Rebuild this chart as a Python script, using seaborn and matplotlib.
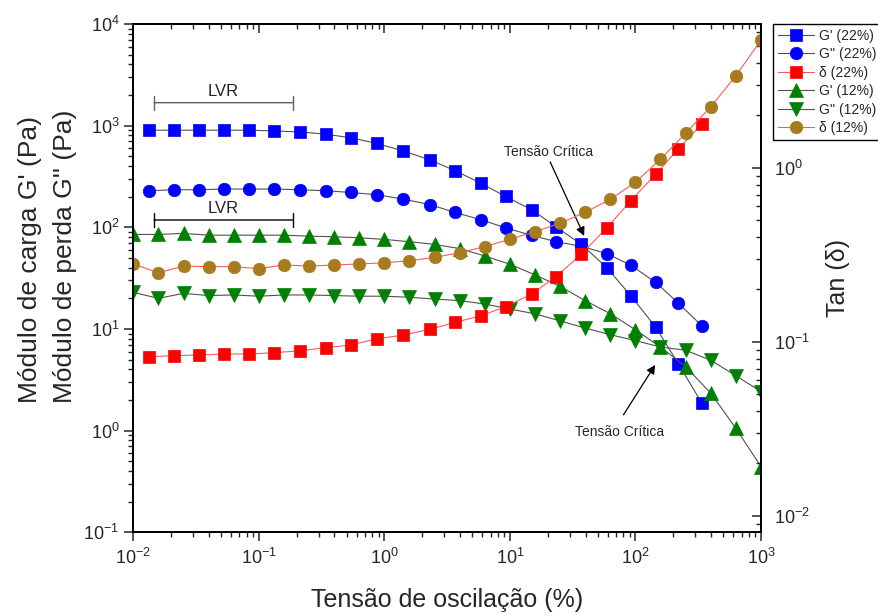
import numpy as np
import matplotlib
matplotlib.use("Agg")
import matplotlib.pyplot as plt
import seaborn as sns

# ---------------- data ----------------
x22 = [0.0134, 0.0211, 0.0334, 0.0527, 0.0833, 0.132, 0.214, 0.340, 0.544, 0.869,
       1.40, 2.32, 3.64, 5.85, 9.24, 14.9, 23.3, 37.0, 59.2, 91.7, 145, 219, 336]
g1_22 = [902, 902, 902, 902, 902, 887, 867, 824, 759, 668, 566, 459, 361, 272, 201,
         149, 101, 68, 40, 21.2, 10.4, 4.57, 1.88]
g2_22 = [229, 234, 234, 238, 238, 238, 234, 229, 220, 209, 190, 167, 140, 119, 98.8,
         83.2, 72.2, 65, 55.1, 42.4, 28.7, 18.0, 10.8]
d_22 = [0.0820, 0.0832, 0.0839, 0.0850, 0.0850, 0.0865, 0.0887, 0.0925, 0.0958, 0.104,
        0.109, 0.118, 0.129, 0.141, 0.159, 0.188, 0.237, 0.318, 0.452, 0.646, 0.917,
        1.28, 1.78]

x12 = [0.01, 0.0158, 0.0251, 0.0398, 0.0631, 0.1, 0.158, 0.251, 0.398, 0.631, 1.0,
       1.58, 2.51, 3.98, 6.31, 10, 15.8, 25.1, 39.8, 63.1, 100, 158, 251, 398, 631, 1000]
g1_12 = [85.1, 85.1, 87.0, 83.7, 83.7, 83.7, 83.7, 81.8, 80.8, 78.9, 76.0, 72.2, 67.9,
         61.7, 52.2, 43.3, 34.1, 26.2, 19.0, 14.1, 9.8, 6.65, 4.25, 2.33, 1.05, 0.441]
g2_12 = [22.9, 20.0, 22.4, 21.3, 21.6, 21.0, 21.6, 21.6, 21.3, 21.0, 21.0, 20.5, 19.7,
         19.0, 17.6, 15.7, 14.1, 12.0, 10.2, 8.78, 7.67, 6.65, 6.17, 4.92, 3.47, 2.42]
d_12 = [0.280, 0.249, 0.272, 0.270, 0.270, 0.263, 0.276, 0.272, 0.276, 0.280, 0.284,
        0.292, 0.305, 0.325, 0.352, 0.388, 0.429, 0.480, 0.555, 0.659, 0.824, 1.12,
        1.58, 2.24, 3.38, 5.42]

labels = ["G' (22%)", "G'' (22%)", "δ (22%)", "G' (12%)", "G'' (12%)", "δ (12%)"]

# ---------------- style ----------------
sns.set_style("ticks")
plt.rcParams['font.family'] = ['Liberation Sans', 'DejaVu Sans']
plt.rcParams['axes.linewidth'] = 1.2

BLUE = "#0000FF"
RED = "#FF0000"
GREEN = "#008000"
BROWN = "#A87B1E"
GRAY = "#505050"
LRED = "#FF5A5A"
MS = 9

fig = plt.figure(figsize=(8.79, 6.15), dpi=100)
ax = fig.add_axes([0.1517, 0.1345, 0.7141, 0.8265])
axr = ax.twinx()
axt = ax.twiny()

def series(a, x, y, marker, mcolor, lcolor, label, ms=MS):
    sns.lineplot(x=x, y=y, ax=a, marker=marker, markersize=ms, color=lcolor,
                 markerfacecolor=mcolor, markeredgecolor=mcolor, markeredgewidth=0.5,
                 linewidth=0.8, label=label, legend=False, sort=False)

series(ax, x22, g1_22, 's', BLUE, GRAY, labels[0], 8.5)
series(ax, x22, g2_22, 'o', BLUE, GRAY, labels[1])
series(ax, x12, g1_12, '^', GREEN, GRAY, labels[3], 9.5)
series(ax, x12, g2_12, 'v', GREEN, GRAY, labels[4], 9.5)
series(axr, x22, d_22, 's', RED, LRED, labels[2], 8.5)
series(axr, x12, d_12, 'o', BROWN, LRED, labels[5])

for a in (ax, axr, axt):
    a.set_xscale('log')
    a.set_xlim(0.01, 1000)
ax.set_yscale('log')
ax.set_ylim(0.1, 1e4)
axr.set_yscale('log')
axr.set_ylim(10 ** -2.095, 10 ** 0.826)

ax.set_xlabel("Tensão de oscilação (%)", fontsize=18, labelpad=14)
ax.set_ylabel("")
axr.set_ylabel("Tan (δ)", fontsize=18, labelpad=12)

fig.text(0.034, 0.345, "Módulo de carga G' (Pa)", rotation=90, fontsize=19,
         ha='center', va='bottom')
fig.text(0.074, 0.345, "Módulo de perda G'' (Pa)", rotation=90, fontsize=19,
         ha='center', va='bottom')

ax.tick_params(axis='both', which='major', direction='out', length=6.5, width=1.1,
               labelsize=13, top=False, right=False)
ax.tick_params(axis='both', which='minor', direction='out', length=3.5, width=1.0,
               top=False, right=False)
ax.tick_params(axis='x', pad=5)
axr.tick_params(axis='y', which='major', direction='in', length=6.5, width=1.1,
                labelsize=13, pad=9)
axr.tick_params(axis='y', which='minor', direction='in', length=3.5, width=1.0)
axt.tick_params(axis='x', which='major', direction='in', length=6.5, width=1.1,
                labeltop=False, top=True, bottom=False)
axt.tick_params(axis='x', which='minor', direction='in', length=3.5, width=1.0,
                top=True, bottom=False)
for a in (ax, axr, axt):
    for s in a.spines.values():
        s.set_linewidth(1.2)
        s.set_color('black')

# LVR brackets
ax.annotate("", xy=(0.0146, 1682), xytext=(0.186, 1682),
            arrowprops=dict(arrowstyle='|-|', color='#606060', lw=1.0,
                            mutation_scale=5, shrinkA=0, shrinkB=0))
ax.text(np.sqrt(0.0146 * 0.186), 2150, "LVR", fontsize=12, ha='center', va='center',
        color='#222222')
ax.annotate("", xy=(0.0146, 118), xytext=(0.186, 118),
            arrowprops=dict(arrowstyle='|-|', color='black', lw=1.0,
                            mutation_scale=5, shrinkA=0, shrinkB=0))
ax.text(np.sqrt(0.0146 * 0.186), 152, "LVR", fontsize=12, ha='center', va='center',
        color='#222222')

# critical strain annotations
ax.text(20.3, 547, "Tensão Crítica", fontsize=10, ha='center', va='center')
ax.annotate("", xy=(39.0, 82.3), xytext=(20.9, 440),
            arrowprops=dict(arrowstyle='-|>', color='black', lw=0.9,
                            mutation_scale=13, shrinkA=0, shrinkB=0))
ax.text(75.2, 0.976, "Tensão Crítica", fontsize=10, ha='center', va='center')
ax.annotate("", xy=(143.5, 4.43), xytext=(80.2, 1.43),
            arrowprops=dict(arrowstyle='-|>', color='black', lw=0.9,
                            mutation_scale=13, shrinkA=0, shrinkB=0))

# legend
hl = {}
for a in (ax, axr):
    for ln in a.get_lines():
        if ln.get_label() in labels:
            hl[ln.get_label()] = ln
handles = [hl[l] for l in labels]
fig.legend(handles, labels, loc='upper left', bbox_to_anchor=(773 / 879, 1 - 24 / 615),
           fontsize=10, frameon=True, fancybox=False, edgecolor='black',
           framealpha=1, handlelength=2.6, handletextpad=0.35, labelspacing=0.32,
           borderpad=0.35, borderaxespad=0)

fig.savefig("out.png", dpi=100)
